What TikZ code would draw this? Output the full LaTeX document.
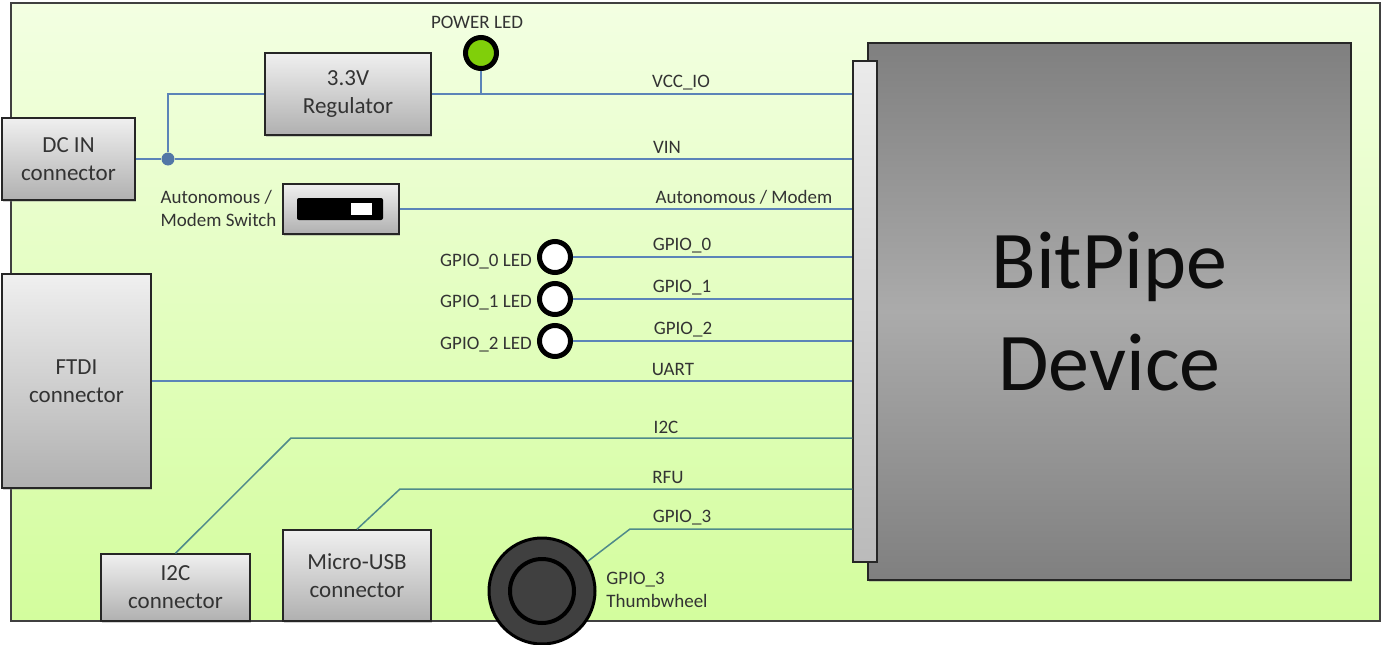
\documentclass[tikz,border=0pt]{standalone}
\usepackage{fontspec}
\setmainfont{Carlito}
\usetikzlibrary{shadows}
\definecolor{wireblue}{HTML}{5B84B8}
\definecolor{wiregreen}{HTML}{4F8A8A}
\definecolor{boardtop}{HTML}{F3FFE2}
\definecolor{boardbot}{HTML}{D3FD9D}
\definecolor{ledgreen}{HTML}{80CF0A}
\tikzset{
    board/.style={draw=black!75,line width=1.5pt,top color=boardtop,bottom color=boardbot},
    greybox/.style={draw=black!85,line width=1.5pt,top color=black!6,bottom color=black!31,align=center,
        font=\fontsize{23}{28}\selectfont,text=black!80,inner sep=0pt,drop shadow={shadow xshift=1pt,shadow yshift=-2pt,opacity=0.35}},
    led/.style={circle,draw=black,line width=5pt,minimum size=31pt,inner sep=0pt},
    wire/.style={wireblue,line width=1.5pt},
    lowwire/.style={wiregreen,line width=1.5pt},
    tag/.style={font=\fontsize{19}{23}\selectfont,text=black!80,align=center,inner sep=0pt}
}
\begin{document}
\begin{tikzpicture}[x=1pt,y=-1pt]
\useasboundingbox (0,0) rectangle (1382,645);
\fill[white] (0,0) rectangle (1382,645);
% board
\draw[board] (11,3) rectangle (1380,621);
% device
\node[draw=black!85,line width=1.5pt,minimum width=483pt,minimum height=537pt,inner sep=0pt,
    top color=black!50,bottom color=black!50,middle color=black!33,
    drop shadow={shadow xshift=1pt,shadow yshift=-2pt,opacity=0.35},
    font=\fontsize{82}{102}\selectfont,align=center,text=black!95] (device) at (1109.5,311.5) {BitPipe\\Device};
\node[draw=black!85,line width=1.5pt,minimum width=24pt,minimum height=501pt,inner sep=0pt,
    top color=black!8,bottom color=black!27] (bar) at (865,311.5) {};
% boxes
\node[greybox,minimum width=166pt,minimum height=82pt] (regulator) at (348,94) {3.3V\\Regulator};
\node[greybox,minimum width=133pt,minimum height=82pt] (dcin) at (68.5,159) {DC IN\\connector};
\node[greybox,minimum width=116pt,minimum height=50pt] (switch) at (341,209) {};
\node[greybox,minimum width=149pt,minimum height=214pt] (ftdi) at (76.5,381) {FTDI\\connector};
\node[greybox,minimum width=149pt,minimum height=67pt] (i2c) at (175.5,587.5) {I2C\\connector};
\node[greybox,minimum width=148pt,minimum height=91pt] (usb) at (357,575.5) {Micro-USB\\connector};
\node[fill=black,rounded corners=2pt,minimum width=86pt,minimum height=22pt,inner sep=0pt] (slider) at (340,209) {};
\node[fill=white,minimum width=21pt,minimum height=12pt,inner sep=0pt] (knob) at (361.5,209) {};
% joints
\node[circle,fill=wireblue!90!black,minimum size=13pt,inner sep=0pt] (join) at (168,159) {};
\coordinate (i2cbend) at (291,438);
\coordinate (usbbend) at (400,489);
\coordinate (wheelbend) at (630,529);
% leds
\node[led,fill=ledgreen] (powerled) at (481,53) {};
\node[led,fill=white] (led0) at (555,257) {};
\node[led,fill=white] (led1) at (555,299) {};
\node[led,fill=white] (led2) at (555,341) {};
% thumbwheel
\node[circle,draw=black,line width=3pt,fill=black!75,minimum size=106pt,inner sep=0pt] (wheel) at (542,591) {};
\node[circle,draw=black,line width=4pt,fill=black!75,minimum size=64pt,inner sep=0pt] (wheelin) at (542,591) {};
% wires
\draw[wire] (dcin.east) -- (join) -- (join -| bar.west);
\draw[wire] (join) |- (regulator.west);
\draw[wire] (regulator.east) -- (regulator.east -| bar.west);
\draw[wire] (powerled.south) -- (powerled.south |- regulator.east);
\draw[wire] (switch.east) -- (switch.east -| bar.west);
\draw[wire] (led0.east) -- (led0.east -| bar.west);
\draw[wire] (led1.east) -- (led1.east -| bar.west);
\draw[wire] (led2.east) -- (led2.east -| bar.west);
\draw[wire] (ftdi.east) -- (ftdi.east -| bar.west);
\draw[lowwire] (i2c.north) -- (i2cbend) -- (i2cbend -| bar.west);
\draw[lowwire] (usb.north) -- (usbbend) -- (usbbend -| bar.west);
\draw[lowwire] (wheel.33) -- (wheelbend) -- (wheelbend -| bar.west);
% labels
\node[tag] (powertag) at (477,22) {POWER LED};
\node[tag] (vcctag) at (681,83) {VCC\_IO};
\node[tag] (vintag) at (667,147) {VIN};
\node[tag] (modetag) at (744,197) {Autonomous / Modem};
\node[tag] (gpio0tag) at (682,246) {GPIO\_0};
\node[tag] (gpio1tag) at (682,288) {GPIO\_1};
\node[tag] (gpio2tag) at (683,330) {GPIO\_2};
\node[tag] (uarttag) at (673,369) {UART};
\node[tag] (i2ctag) at (666,427) {I2C};
\node[tag] (rfutag) at (668,477) {RFU};
\node[tag] (gpio3tag) at (682,518) {GPIO\_3};
\node[tag,align=left] (switchtag) at (218.5,208) {Autonomous /\\Modem Switch};
\node[tag] (led0tag) at (486,262) {GPIO\_0 LED};
\node[tag] (led1tag) at (486,303) {GPIO\_1 LED};
\node[tag] (led2tag) at (486,345) {GPIO\_2 LED};
\node[tag,align=left] (wheeltag) at (657,590) {GPIO\_3\\Thumbwheel};
\end{tikzpicture}
\end{document}
